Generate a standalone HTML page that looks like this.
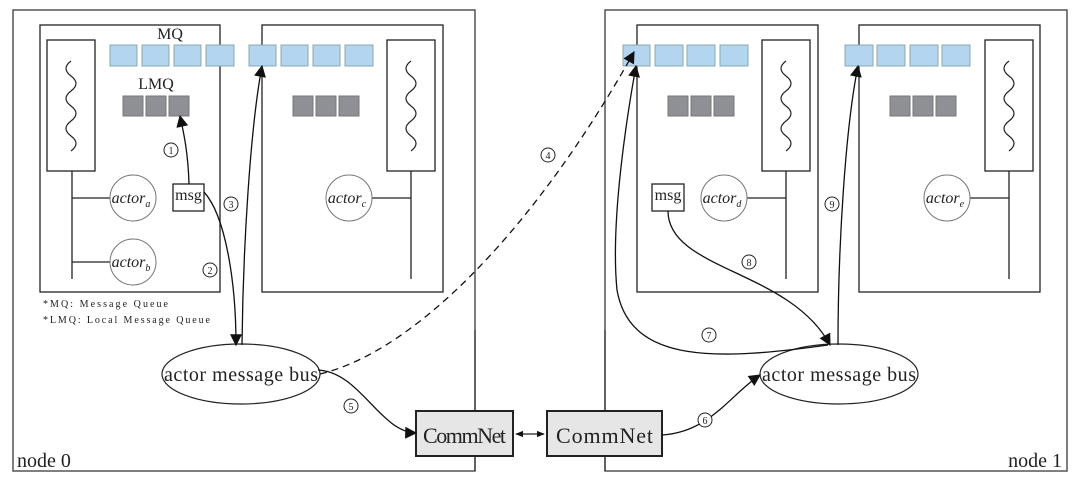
<!DOCTYPE html>
<html><head><meta charset="utf-8"><style>
body{margin:0;background:#fff}
svg{display:block}
text{font-family:"Liberation Serif",serif;fill:#222}
</style></head><body>
<svg width="1080" height="484" viewBox="0 0 1080 484" xmlns="http://www.w3.org/2000/svg">
<defs>
<marker id="ah" viewBox="0 0 10 10" refX="9" refY="5" markerWidth="8" markerHeight="8" orient="auto-start-reverse" markerUnits="userSpaceOnUse"><path d="M0,1 L10,5 L0,9 z" fill="#111"/></marker>
<marker id="ahb" viewBox="0 0 10 10" refX="9" refY="5" markerWidth="14" markerHeight="12" orient="auto" markerUnits="userSpaceOnUse"><path d="M0,0 L10,5 L0,10 z" fill="#111"/></marker>
</defs>
<g fill="none" stroke="#555" stroke-width="1.5">
<rect x="13" y="10" width="462" height="461"/>
<rect x="605" y="10" width="462" height="461"/>
</g>
<g fill="none" stroke="#222" stroke-width="1.3">
<rect x="40" y="25" width="180" height="267"/>
<rect x="262" y="25" width="181" height="267"/>
<rect x="637" y="25" width="181" height="267"/>
<rect x="859" y="25" width="181" height="267"/>
<rect x="47" y="40" width="48" height="131"/>
<rect x="387" y="40" width="48" height="131"/>
<rect x="762" y="40" width="48" height="131"/>
<rect x="985" y="40" width="48" height="131"/>
<path d="M72 171V279M72 198H110M72 262H110"/>
<path d="M411 171V279M411 198H372"/>
<path d="M786 171V279M786 198H747"/>
<path d="M1009 171V279M1009 198H970"/>
</g>
<g fill="none" stroke="#222" stroke-width="1.2">
<path d="M71 61 q-10 7.5 0 15 q10 7.5 0 15 q-10 7.5 0 15 q10 7.5 0 15 q-10 7.5 0 15 q10 7.5 0 15"/>
<path d="M411 61 q-10 7.5 0 15 q10 7.5 0 15 q-10 7.5 0 15 q10 7.5 0 15 q-10 7.5 0 15 q10 7.5 0 15"/>
<path d="M786 61 q-10 7.5 0 15 q10 7.5 0 15 q-10 7.5 0 15 q10 7.5 0 15 q-10 7.5 0 15 q10 7.5 0 15"/>
<path d="M1009 61 q-10 7.5 0 15 q10 7.5 0 15 q-10 7.5 0 15 q10 7.5 0 15 q-10 7.5 0 15 q10 7.5 0 15"/>
</g>
<g fill="#fff" stroke="#777" stroke-width="1">
<circle cx="133" cy="198" r="23"/><circle cx="133" cy="262" r="23"/>
<circle cx="349" cy="198" r="23"/><circle cx="724" cy="198" r="23"/><circle cx="947" cy="198" r="23"/>
</g>
<g fill="#b3d5f0" stroke="#8aa" stroke-width="1">
<rect x="110" y="45" width="27" height="21"/><rect x="142" y="45" width="27" height="21"/><rect x="174" y="45" width="27" height="21"/><rect x="206" y="45" width="28" height="21"/>
<rect x="249" y="45" width="27" height="21"/><rect x="281" y="45" width="27" height="21"/><rect x="313" y="45" width="27" height="21"/><rect x="345" y="45" width="28" height="21"/>
<rect x="623" y="45" width="27" height="21"/><rect x="655" y="45" width="28" height="21"/><rect x="687" y="45" width="28" height="21"/><rect x="720" y="45" width="28" height="21"/>
<rect x="845" y="45" width="28" height="21"/><rect x="877" y="45" width="28" height="21"/><rect x="910" y="45" width="28" height="21"/><rect x="942" y="45" width="28" height="21"/>
</g>
<g fill="#8e9095" stroke="#777" stroke-width="1">
<rect x="123" y="96" width="20" height="20"/><rect x="146" y="96" width="20" height="20"/><rect x="169" y="96" width="20" height="20"/>
<rect x="293" y="96" width="20" height="20"/><rect x="316" y="96" width="20" height="20"/><rect x="339" y="96" width="20" height="20"/>
<rect x="668" y="96" width="20" height="20"/><rect x="691" y="96" width="20" height="20"/><rect x="714" y="96" width="20" height="20"/>
<rect x="890" y="96" width="20" height="20"/><rect x="913" y="96" width="20" height="20"/><rect x="936" y="96" width="20" height="20"/>
</g>
<text x="170" y="39" font-size="16" text-anchor="middle">MQ</text>
<text x="156" y="89" font-size="16" text-anchor="middle">LMQ</text>
<g font-size="16" font-style="italic" text-anchor="middle">
<text x="131" y="203">actor<tspan font-size="10" dy="4">a</tspan></text>
<text x="131" y="267">actor<tspan font-size="10" dy="4">b</tspan></text>
<text x="347" y="203">actor<tspan font-size="10" dy="4">c</tspan></text>
<text x="722" y="203">actor<tspan font-size="10" dy="4">d</tspan></text>
<text x="945" y="203">actor<tspan font-size="10" dy="4">e</tspan></text>
</g>
<g fill="#fff" stroke="#222" stroke-width="1.3">
<rect x="173" y="184" width="31" height="27"/><rect x="652" y="184" width="32" height="27"/>
</g>
<text x="188.5" y="200" font-size="16" text-anchor="middle">msg</text>
<text x="668" y="200" font-size="16" text-anchor="middle">msg</text>
<text x="43" y="307" font-size="10" textLength="125">*MQ: Message Queue</text>
<text x="43" y="323" font-size="10" textLength="167">*LMQ: Local Message Queue</text>
<g fill="#fff" stroke="#222" stroke-width="1.2">
<ellipse cx="241" cy="374" rx="79" ry="30"/><ellipse cx="839" cy="374" rx="79" ry="30"/>
</g>
<text x="164" y="381" font-size="20" textLength="154">actor message bus</text>
<text x="762" y="381" font-size="20" textLength="154">actor message bus</text>
<path d="M475 471V456M475 411V330" stroke="#333" stroke-width="1.2"/>
<path d="M605 471V456M605 411V330" stroke="#333" stroke-width="1.2"/>
<g fill="#e6e6e6" stroke="#222" stroke-width="2">
<rect x="416" y="411" width="97" height="45"/><rect x="547" y="411" width="115" height="45"/>
</g>
<text x="423" y="443" font-size="22" textLength="83">CommNet</text>
<text x="556" y="443" font-size="22" textLength="97">CommNet</text>
<path d="M516 434H544" stroke="#222" stroke-width="1.2" marker-start="url(#ah)" marker-end="url(#ah)"/>
<g fill="none" stroke="#111" stroke-width="1.3" marker-end="url(#ahb)">
<path d="M189 184 C188 150 183 130 180 116"/>
<path d="M204 192 C225 215 236 280 236 345"/>
<path d="M242 345 C243 250 250 130 262 66"/>
<path d="M320 374 C420 350 540 220 634 52" stroke-dasharray="7,5"/>
<path d="M318 370 C360 372 380 432 416 433"/>
<path d="M662 435 C710 432 730 395 760 375"/>
<path d="M828 345 C720 360 630 365 617 290 C610 220 628 110 636 66"/>
<path d="M668 211 C668 270 790 270 830 345"/>
<path d="M838 345 C838 250 845 130 858 66"/>
</g>
<g fill="#fff" stroke="#222" stroke-width="1">
<circle cx="171" cy="150" r="7"/><circle cx="210" cy="270" r="7"/><circle cx="231" cy="204" r="7"/><circle cx="548" cy="155" r="7"/>
<circle cx="351" cy="406" r="7"/><circle cx="705" cy="420" r="7"/><circle cx="709" cy="335" r="7"/><circle cx="749" cy="262" r="7"/><circle cx="832" cy="204" r="7"/>
</g>
<g font-size="10" text-anchor="middle">
<text x="171" y="154">1</text><text x="210" y="274">2</text><text x="231" y="208">3</text><text x="548" y="159">4</text>
<text x="351" y="410">5</text><text x="705" y="424">6</text><text x="709" y="339">7</text><text x="749" y="266">8</text><text x="832" y="208">9</text>
</g>
<text x="17" y="467" font-size="20">node 0</text>
<text x="1062" y="467" font-size="20" text-anchor="end">node 1</text>
</svg>
</body></html>
